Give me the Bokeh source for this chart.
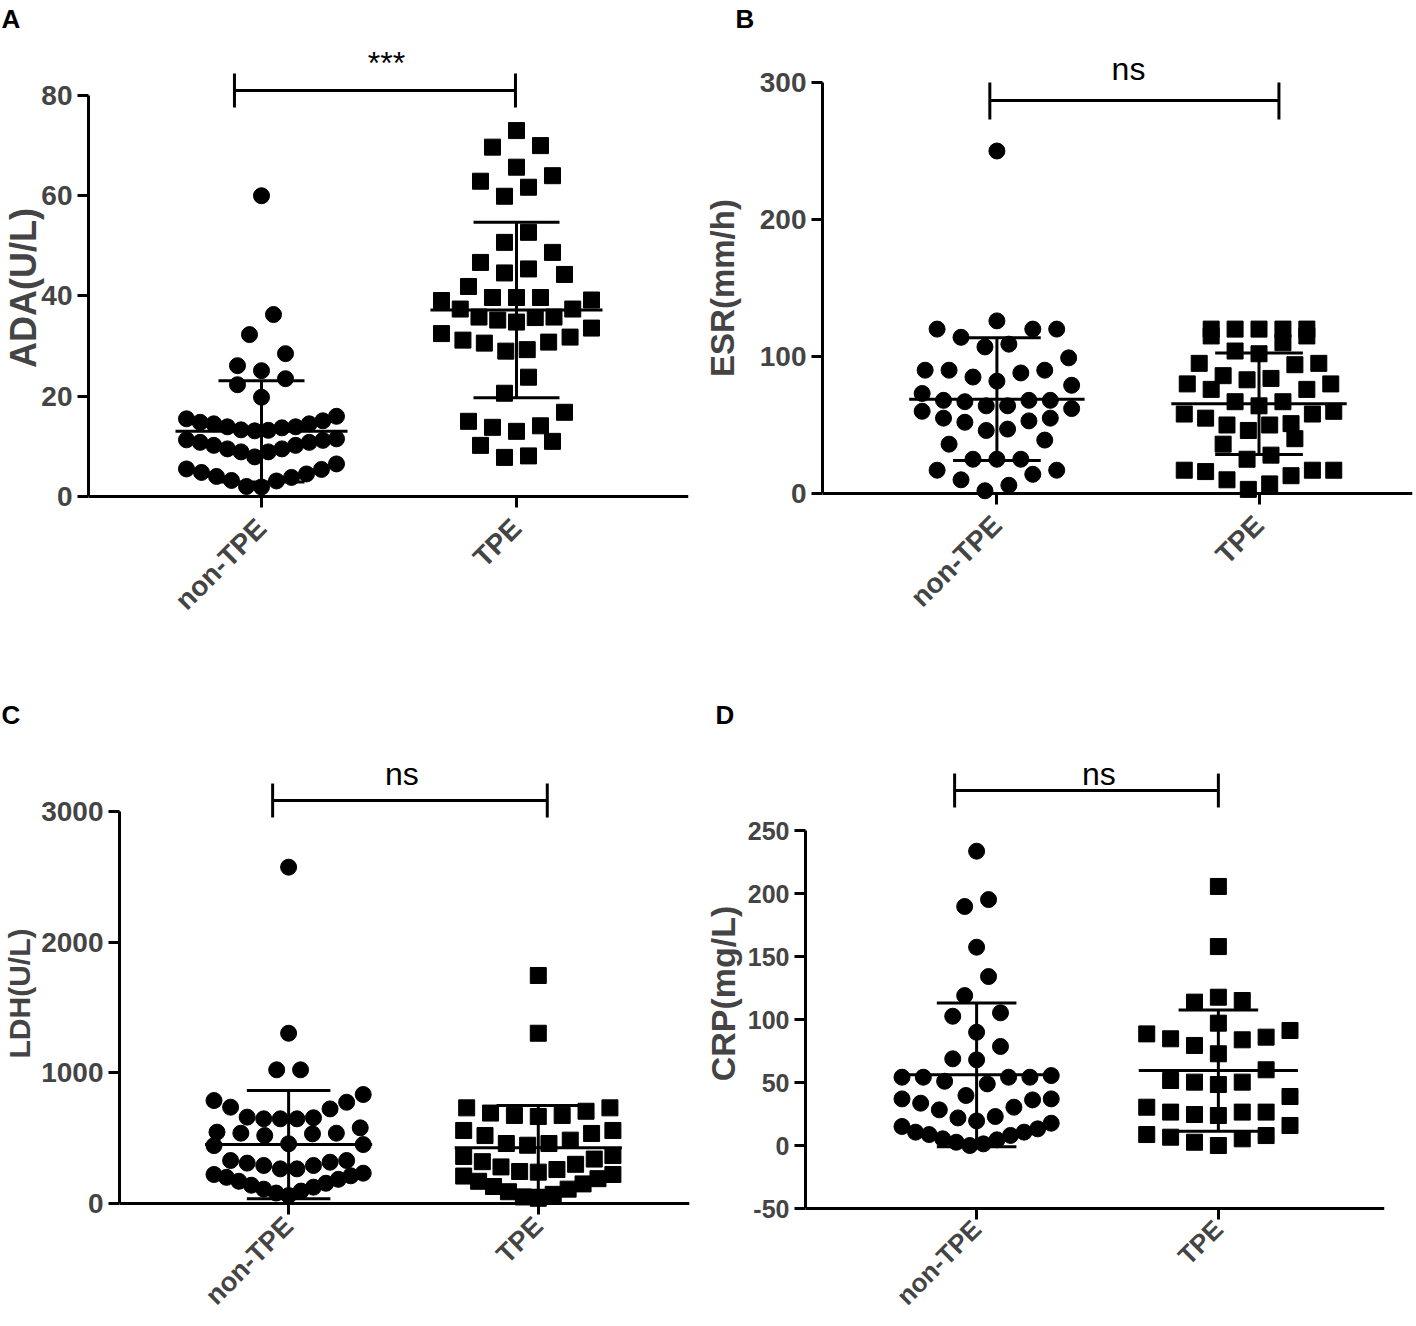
import math
from bokeh.plotting import figure
from bokeh.models import Range1d, FixedTicker, Span
from bokeh.layouts import column, row
from bokeh.embed import file_html
from bokeh.resources import INLINE
from bokeh.core.properties import value

GROUPS = ["non-TPE", "TPE"]

# ---------------- data ----------------
ada_non_tpe = [60.0, 36.3, 32.3, 28.5, 26.1, 25.1, 23.5, 22.3, 19.8,
               16.0, 15.5, 14.8, 14.5, 13.9, 13.3, 13.1, 13.2, 13.7, 13.9, 14.5, 15.1,
               11.5, 11.2, 10.8, 10.2, 9.5, 8.9, 7.9, 8.9, 9.5, 10.2, 10.8, 11.3,
               6.5, 5.4, 4.5, 3.8, 3.1, 1.9, 2.0, 3.2, 4.0, 4.8, 5.5]
ada_tpe = [73.0, 69.7, 70.0, 65.7, 64.0, 62.9, 61.7, 59.9,
           52.7, 50.7, 48.7, 46.7, 45.4, 44.6, 44.3, 41.9, 39.2, 39.7, 39.7, 39.7, 39.1,
           37.4, 37.4, 35.8, 35.7, 34.8, 35.2, 35.8, 33.6, 32.5, 31.8, 30.8, 31.2, 30.6,
           29.3, 29.0, 23.8, 20.6, 16.8, 15.0, 13.8, 13.0, 14.1, 11.0, 10.2, 7.8, 8.1]
ada_mean = [13.0, 37.2]
ada_sd = [10.1, 17.5]
ada_ticks = [0, 20, 40, 60, 80]

esr_non_tpe = [250, 120, 120, 126, 120, 114, 109, 107, 99, 90, 90, 85, 88, 90, 79, 82,
               73, 68, 68, 67, 68, 64, 64, 60, 62, 55, 52, 53, 55, 46, 47, 36, 39,
               25, 25, 25, 17, 17, 10, 14, 2, 6]
esr_tpe = [120, 120, 115, 120, 120, 115, 120, 110, 104, 102, 95, 94, 95, 86, 83, 84,
           80, 76, 80, 76, 67, 64, 67, 58, 55, 58, 60, 50, 46, 50, 51, 40, 36,
           28, 25, 17, 16, 10, 13, 17, 17, 3, 7]
esr_mean = [68.8, 65.5]
esr_sd = [44.8, 37.1]
esr_ticks = [0, 100, 200, 300]

ldh_non_tpe = [2574, 1303, 1023, 1023, 834, 775, 788, 737, 724, 656, 648, 648, 648, 661,
               579, 538, 533, 520, 538, 546, 457, 451, 443, 316, 291, 265, 329, 329, 265,
               291, 309, 61, 80, 95, 110, 125, 140, 155, 170, 185, 200, 212, 222, 232]
ldh_tpe = [1745, 1303, 732, 692, 674, 666, 674, 706, 732, 559, 559, 520, 459, 446, 459,
           485, 536, 367, 360, 340, 320, 300, 280, 260, 245, 240, 222, 210, 190, 170,
           150, 130, 110, 90, 70, 50, 40]
ldh_mean = [451, 426]
ldh_sd = [414, 324]
ldh_ticks = [0, 1000, 2000, 3000]

crp_non_tpe = [233.6, 195.2, 189.7, 157.4, 134.1, 119.0, 105.3, 102.6, 89.9, 78.6, 68.8, 68.0,
               54.2, 54.2, 51.0, 48.9, 54.2, 54.2, 55.5, 39.7,
               37.0, 33.6, 28.3, 21.9, 19.5, 23.0, 30.4, 36.2, 37.0,
               15.1, 10.6, 8.7, 5.3, 2.6, 0.0, 1.3, 4.5, 8.0, 10.6, 13.2, 17.7]
crp_tpe = [205.6, 157.9, 115.1, 113.8, 117.7, 97.1, 88.6, 84.7, 91.3, 79.4, 72.8, 83.9, 86.0,
           60.1, 50.3, 48.4, 50.3, 51.6, 38.9, 30.4, 26.5, 24.6, 23.8, 26.5, 26.5, 15.9,
           7.9, 5.3, 0.0, 2.6, 6.6, 8.7]
crp_mean = [56.1, 59.5]
crp_sd = [57.1, 48.1]
crp_ticks = [-50, 0, 50, 100, 150, 200, 250]

FONT = "Liberation Sans"


def swarm_offsets(vals, px_per_y, px_per_x, row_px=24.5, step_px=24.0, half_px=75.0):
    """Prism-like scatter-dot arrangement: rows of close values spread sideways."""
    order = sorted(range(len(vals)), key=lambda i: vals[i])
    rows, cur, start = [], [], None
    for i in order:
        if cur and (vals[i] - start) * px_per_y > row_px:
            rows.append(cur)
            cur = []
        if not cur:
            start = vals[i]
        cur.append(i)
    if cur:
        rows.append(cur)
    off = [0.0] * len(vals)
    for r in rows:
        n = len(r)
        step = step_px if n < 2 else min(step_px, 2 * half_px / (n - 1))
        if n % 2:
            slots, k = [0.0], 1.0
        else:
            slots, k = [], 0.5
        while len(slots) < n:
            slots += [-k, k]
            k += 1
        for i, s in zip(r, slots[:n]):
            off[i] = s * step / px_per_x
    return off


def make_panel(cfg):
    W, H = cfg["width"], cfg["height"]
    mbl, mbr, mbt, mbb = cfg["borders"]
    fw, fh = W - mbl - mbr, H - mbt - mbb
    ticks = cfg["ticks"]
    base = ticks[0]
    y_end = cfg["y_end"]
    gap = cfg["gap"]
    y_start = base - gap * (y_end - base) / (fh - gap)
    x_start, x_end = cfg["x_range"]
    p = figure(width=W, height=H, output_backend="svg", toolbar_location=None,
               x_range=Range1d(x_start, x_end), y_range=Range1d(y_start, y_end),
               min_border_left=mbl, min_border_right=mbr,
               min_border_top=mbt, min_border_bottom=mbb)
    p.outline_line_color = None
    p.grid.visible = False
    p.background_fill_color = "white"
    p.border_fill_color = "white"
    ppx = fw / (x_end - x_start)
    ppy = fh / (y_end - y_start)

    # panel letter
    p.title.text = cfg["letter"]
    p.title.align = "left"
    p.title.vertical_align = "top"
    p.title.offset = cfg["letter_offset"]
    p.title.standoff = 0
    p.title.text_font = FONT
    p.title.text_font_size = "26px"
    p.title.text_font_style = "bold"
    p.title.text_color = "black"

    # x axis baseline drawn at the lowest y tick
    p.add_layout(Span(location=base, dimension="width", line_color="black",
                      line_width=3, level="underlay"))

    markers = ["circle", "square"]
    for gi, vals in enumerate(cfg["groups"]):
        offs = swarm_offsets(vals, ppy, ppx)
        xs = [gi + 1 + o for o in offs]
        p.scatter(xs, vals, marker=markers[gi], size=16, color="black")
    c = [1, 2]
    m, s = cfg["mean"], cfg["sd"]
    hi = [a + b for a, b in zip(m, s)]
    lo = [a - b for a, b in zip(m, s)]
    hw = cfg["mean_half"] / ppx
    cw = cfg["cap_half"] / ppx
    p.segment(x0=[ci - hw for ci in c], x1=[ci + hw for ci in c], y0=m, y1=m,
              line_width=3, color="black")
    p.segment(x0=c, x1=c, y0=lo, y1=hi, line_width=3, color="black")
    p.segment(x0=[ci - cw for ci in c] * 2, x1=[ci + cw for ci in c] * 2,
              y0=hi + lo, y1=hi + lo, line_width=3, color="black")

    # significance bracket
    bx0, bx1, by, blo, bhi = cfg["bracket"]
    p.segment(x0=[bx0, bx0, bx1], x1=[bx1, bx0, bx1], y0=[by, blo, blo], y1=[by, bhi, bhi],
              line_width=3, color="black")
    tx, ty = cfg["sig_pos"]
    p.text(x=[tx], y=[ty], text=[cfg["sig"]], text_font=value(FONT), text_font_size="32px",
           text_align="center", text_baseline="middle", text_color="black")

    # y axis
    ya = p.yaxis[0]
    ya.ticker = FixedTicker(ticks=ticks)
    ya.bounds = (ticks[0], ticks[-1])
    ya.major_label_overrides = {t: str(t) for t in ticks}
    ya.minor_tick_line_color = None
    ya.minor_tick_out = 0
    ya.axis_line_width = 3
    ya.major_tick_line_width = 3
    ya.major_tick_out = 11
    ya.major_tick_in = 0
    ya.major_label_standoff = 5
    ya.major_label_text_font = FONT
    ya.major_label_text_font_size = cfg["ytick_size"]
    ya.major_label_text_font_style = "bold"
    ya.axis_label = cfg["ytitle"]
    ya.axis_label_text_font = FONT
    ya.axis_label_text_font_size = cfg["title_size"]
    ya.axis_label_text_font_style = "bold"
    ya.axis_label_standoff = cfg["title_standoff"]

    # x axis (line drawn by the Span above, ticks reach up to it)
    xa = p.xaxis[0]
    xa.ticker = FixedTicker(ticks=[1, 2])
    xa.major_label_overrides = {1: GROUPS[0], 2: GROUPS[1]}
    xa.major_label_orientation = math.pi / 4
    xa.minor_tick_line_color = None
    xa.minor_tick_out = 0
    xa.minor_tick_in = 0
    xa.axis_line_color = None
    xa.major_tick_line_width = 3
    xa.major_tick_in = gap
    xa.major_tick_out = 11 - gap
    xa.major_label_standoff = cfg["xlabel_offset"] - gap
    xa.major_label_text_font = FONT
    xa.major_label_text_font_size = cfg["xtick_size"]
    xa.major_label_text_font_style = "bold"
    return p


pA = make_panel(dict(letter="A", letter_offset=-87, ytitle="ADA(U/L)",
                     groups=[ada_non_tpe, ada_tpe], mean=ada_mean, sd=ada_sd, ticks=ada_ticks,
                     width=700, height=698, borders=(88, 12, 35, 158),
                     y_end=91.97, gap=44, x_range=(0.3216, 2.6745),
                     mean_half=86, cap_half=43,
                     bracket=(0.894, 1.996, 81.0, 77.6, 84.4), sig="***", sig_pos=(1.49, 86.5),
                     title_size="36px", title_standoff=-6, ytick_size="28px",
                     xtick_size="28px", xlabel_offset=27))

pB = make_panel(dict(letter="B", letter_offset=-87, ytitle="ESR(mm/h)",
                     groups=[esr_non_tpe, esr_tpe], mean=esr_mean, sd=esr_sd, ticks=esr_ticks,
                     width=715, height=698, borders=(120, 3, 35, 158),
                     y_end=334.3, gap=47, x_range=(0.3346, 2.5856),
                     mean_half=88, cap_half=44,
                     bracket=(0.973, 2.076, 286.9, 273.0, 300.0), sig="ns", sig_pos=(1.502, 309.5),
                     title_size="33px", title_standoff=16, ytick_size="28px",
                     xtick_size="28px", xlabel_offset=27))

pC = make_panel(dict(letter="C", letter_offset=-118, ytitle="LDH(U/L)",
                     groups=[ldh_non_tpe, ldh_tpe], mean=ldh_mean, sd=ldh_sd, ticks=ldh_ticks,
                     width=700, height=628, borders=(116, 11, 33, 71),
                     y_end=3612.2, gap=52, x_range=(0.3227, 2.6056),
                     mean_half=84, cap_half=42,
                     bracket=(0.936, 2.036, 3084, 2954, 3214), sig="ns", sig_pos=(1.454, 3290.7),
                     title_size="30px", title_standoff=2, ytick_size="28px",
                     xtick_size="27px", xlabel_offset=18))

pD = make_panel(dict(letter="D", letter_offset=-90, ytitle="CRP(mg/L)",
                     groups=[crp_non_tpe, crp_tpe], mean=crp_mean, sd=crp_sd, ticks=crp_ticks,
                     width=715, height=628, borders=(102, 31, 33, 71),
                     y_end=328.6, gap=47, x_range=(0.2922, 2.6872),
                     mean_half=80, cap_half=40,
                     bracket=(0.909, 2.0, 281.7, 268.3, 295.2), sig="ns", sig_pos=(1.506, 295.2),
                     title_size="34px", title_standoff=3, ytick_size="25px",
                     xtick_size="26px", xlabel_offset=16))

layout = column(row(pA, pB), row(pC, pD))
open("out.html", "w").write(file_html(layout, INLINE))
